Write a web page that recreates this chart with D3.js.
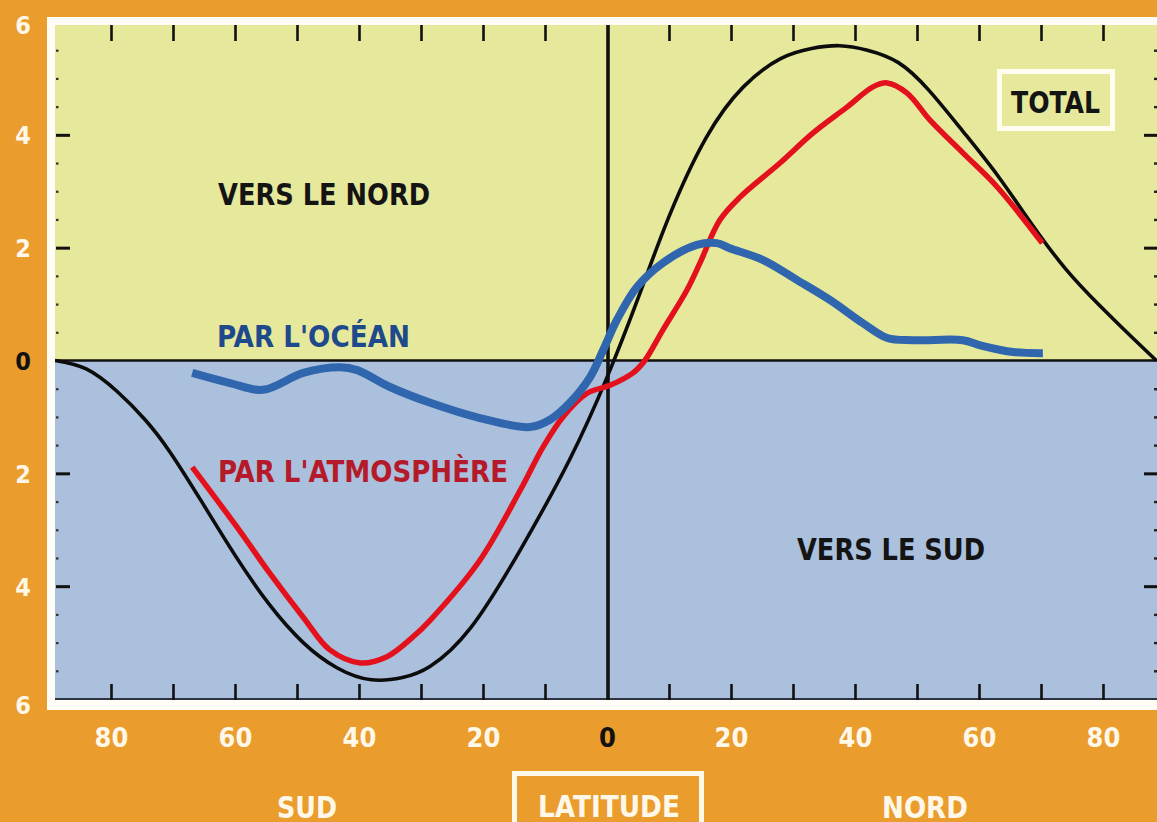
<!DOCTYPE html>
<html><head><meta charset="utf-8">
<script src="https://cdn.jsdelivr.net/npm/d3@7/dist/d3.min.js"></script>
<style>
html,body{margin:0;padding:0;background:#ea9c2d;overflow:hidden;}
svg{display:block;}
text{font-family:"DejaVu Sans Condensed","DejaVu Sans",sans-serif;font-weight:bold;}
</style></head>
<body>
<svg id="c" width="1157" height="822"></svg>
<script>
// Latitudes (negative = south) and transport values (PW)
const totalLat = [-89,-84,-79,-74.5,-70.5,-65.5,-60,-54.5,-49,-43.5,-38,-33,-28.5,-22,-14,-6,0,5,10,16,22,28,33,37.5,42,47,52,57.5,63,68.5,74,79.5,84.5,88.6];
const totalVal = [0,-0.15,-0.55,-1.05,-1.62,-2.48,-3.45,-4.32,-5.0,-5.45,-5.66,-5.62,-5.42,-4.74,-3.36,-1.75,-0.3,1.1,2.55,3.95,4.85,5.35,5.53,5.58,5.5,5.28,4.78,4.05,3.28,2.42,1.62,0.97,0.43,0];

const atmoLat = [-66.9,-59.7,-54.4,-49,-44.7,-39.8,-35.5,-31.3,-28.5,-20.5,-14,-10.3,-7.1,-3.2,0.5,4.2,6.1,9,12.9,15,18.2,21.5,27.9,33.2,38.7,42.9,45.2,48.4,52.1,57.4,62.9,70.2];
const atmoVal = [-1.89,-2.95,-3.77,-4.55,-5.13,-5.36,-5.25,-4.9,-4.6,-3.54,-2.3,-1.53,-1.0,-0.58,-0.44,-0.22,0,0.54,1.25,1.73,2.49,2.9,3.5,4.03,4.49,4.85,4.92,4.74,4.26,3.68,3.08,2.08];

const oceanLat = [-66.9,-60.8,-55.5,-49,-43.1,-40.3,-35,-28.5,-20.5,-12.4,-9.2,-6,-2.7,-0.6,1.6,4.8,9,14.5,17.7,19.8,25.2,30.6,36,41.3,45.2,49.4,57.4,60.2,65.5,70.3];
const oceanVal = [-0.22,-0.4,-0.52,-0.22,-0.12,-0.17,-0.47,-0.75,-1.02,-1.18,-1.05,-0.75,-0.29,0.19,0.72,1.3,1.73,2.05,2.08,1.99,1.78,1.43,1.07,0.66,0.4,0.36,0.36,0.27,0.15,0.13];

const xTicks = [-80,-60,-40,-20,0,20,40,60,80];
const xTickLabels = ["80","60","40","20","0","20","40","60","80"];
const xMinorTicks = [-80,-70,-60,-50,-40,-30,-20,-10,10,20,30,40,50,60,70,80];
const yTicks = [6,4,2,0,-2,-4,-6];
const yTickLabels = ["6","4","2","0","2","4","6"];
const yMinorTicks = [-5.5,-5,-4.5,-3.5,-3,-2.5,-1.5,-1,-0.5,0.5,1,1.5,2.5,3,3.5,4.5,5,5.5];

const svg = d3.select("#c");
const x = d3.scaleLinear().domain([-90,90]).range([49,1165]);
const y = d3.scaleLinear().domain([-6,6]).range([699,22]);

const L = 55, R = 1162, T = 25, B = 700;

// white frame
svg.append("rect").attr("x",47).attr("y",17).attr("width",1130).attr("height",693).attr("fill","#fffdf6");
// plot halves
svg.append("rect").attr("x",L).attr("y",T).attr("width",R-L).attr("height",y(0)-T).attr("fill","#e6e99c");
svg.append("rect").attr("x",L).attr("y",y(0)).attr("width",R-L).attr("height",B-y(0)).attr("fill","#abc0dc");

// bottom edge line
svg.append("line").attr("x1",L).attr("x2",R).attr("y1",B-1).attr("y2",B-1).attr("stroke","#2b3440").attr("stroke-width",2);

// top ticks
const gTop = svg.append("g").attr("transform",`translate(0,${T})`)
  .call(d3.axisBottom(x).tickValues(xMinorTicks).tickSize(16).tickFormat(""));
gTop.select(".domain").remove();
gTop.selectAll("line").attr("stroke","#111").attr("stroke-width",2.6);
// bottom ticks
const gBot = svg.append("g").attr("transform",`translate(0,${B})`)
  .call(d3.axisTop(x).tickValues(xMinorTicks).tickSize(16).tickFormat(""));
gBot.select(".domain").remove();
gBot.selectAll("line").attr("stroke","#111").attr("stroke-width",2.6);

// left ticks: majors and minor dots
const gL = svg.append("g").attr("transform",`translate(${L+1},0)`)
  .call(d3.axisRight(y).tickValues(yTicks.filter(d=>d!==0 && Math.abs(d)!==6)).tickSize(14).tickFormat(""));
gL.select(".domain").remove();
gL.selectAll("line").attr("stroke","#111").attr("stroke-width",3);
const gLm = svg.append("g").attr("transform",`translate(${L+1},0)`)
  .call(d3.axisRight(y).tickValues(yMinorTicks).tickSize(2.5).tickFormat(""));
gLm.select(".domain").remove();
gLm.selectAll("line").attr("stroke","#333").attr("stroke-width",2.2);
// right ticks
const gR = svg.append("g").attr("transform",`translate(${R-2},0)`)
  .call(d3.axisLeft(y).tickValues(yTicks.filter(d=>d!==0 && Math.abs(d)!==6)).tickSize(16).tickFormat(""));
gR.select(".domain").remove();
gR.selectAll("line").attr("stroke","#111").attr("stroke-width",3);
const gRm = svg.append("g").attr("transform",`translate(${R-2},0)`)
  .call(d3.axisLeft(y).tickValues(yMinorTicks).tickSize(6).tickFormat(""));
gRm.select(".domain").remove();
gRm.selectAll("line").attr("stroke","#222").attr("stroke-width",2.4);

// zero line and equator line
svg.append("line").attr("x1",L).attr("x2",R).attr("y1",y(0)).attr("y2",y(0)).attr("stroke","#111").attr("stroke-width",2.6);
svg.append("line").attr("x1",x(0)+1).attr("x2",x(0)+1).attr("y1",T).attr("y2",B).attr("stroke","#111").attr("stroke-width",3.6);

// curves
const zip = (a,b)=>a.map((v,i)=>[v,b[i]]);
const lineSmooth = d3.line().x(d=>x(d[0])).y(d=>y(d[1])).curve(d3.curveNatural);
const lineCR = d3.line().x(d=>x(d[0])).y(d=>y(d[1])).curve(d3.curveCatmullRom.alpha(0.5));
svg.append("path").attr("d",lineSmooth(zip(totalLat,totalVal))).attr("fill","none").attr("stroke","#0c0c0c").attr("stroke-width",3.6);
svg.append("path").attr("d",lineCR(zip(atmoLat,atmoVal))).attr("fill","none").attr("stroke","#e3111c").attr("stroke-width",5.5);
svg.append("path").attr("d",lineCR(zip(oceanLat,oceanVal))).attr("fill","none").attr("stroke","#2f66ae").attr("stroke-width",8);

// y tick labels
const gYL = svg.append("g").attr("transform","translate(23,0)")
  .call(d3.axisLeft(y).tickValues(yTicks).tickSize(0).tickFormat((d,i)=>yTickLabels[i]));
gYL.select(".domain").remove();
gYL.selectAll("text").attr("x",0).attr("text-anchor","middle").attr("dy","0.36em")
  .style("font-size","25px").style("font-family","'DejaVu Sans Condensed','DejaVu Sans',sans-serif").style("font-weight","bold")
  .attr("fill",d=>d===0?"#111":"#fff8e8");
gYL.selectAll("text").filter(d=>d===6).attr("y",2);
gYL.selectAll("text").filter(d=>d===-6).attr("y",5);

// x tick labels
const gXL = svg.append("g").attr("transform","translate(0,737)")
  .call(d3.axisBottom(x).tickValues(xTicks).tickSize(0).tickFormat((d,i)=>xTickLabels[i]));
gXL.select(".domain").remove();
gXL.selectAll("text").attr("y",0).attr("dy","0.36em")
  .style("font-size","27px").style("font-family","'DejaVu Sans Condensed','DejaVu Sans',sans-serif").style("font-weight","bold")
  .attr("fill",d=>d===0?"#111":"#fff8e8");

// annotations
function label(t,xx,yy,w,fill,size){
  svg.append("text").attr("x",xx).attr("y",yy).text(t).attr("fill",fill)
    .style("font-size",size+"px").attr("textLength",w).attr("lengthAdjust","spacingAndGlyphs");
}
label("VERS LE NORD",218,205,212,"#141414",30);
label("PAR L'OCÉAN",217,347,193,"#1e4a8c",30);
label("PAR L'ATMOSPHÈRE",218,482,290,"#b51a2b",30);
label("VERS LE SUD",797,560,188,"#141414",30);

// TOTAL box
svg.append("rect").attr("x",999.5).attr("y",71.5).attr("width",113).attr("height",57).attr("fill","none").attr("stroke","#fffdf0").attr("stroke-width",5);
label("TOTAL",1011,113,89,"#141414",30);

// bottom labels (cut by the lower edge, as in the reference)
label("SUD",277,818,60,"#fff8e8",30);
label("NORD",882,818,86,"#fff8e8",30);
svg.append("rect").attr("x",514.5).attr("y",773.5).attr("width",187).attr("height",70).attr("fill","none").attr("stroke","#fff8e8").attr("stroke-width",5);
label("LATITUDE",538,817,142,"#fff8e8",30);
</script>
</body></html>
